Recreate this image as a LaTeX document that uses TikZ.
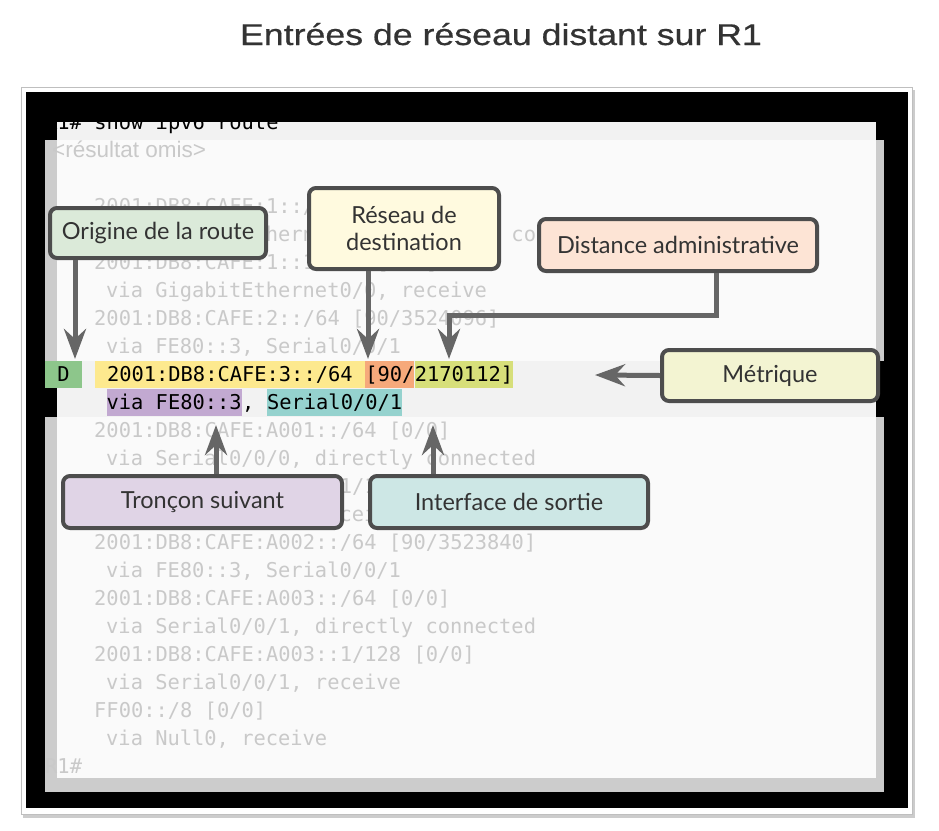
\documentclass[tikz,border=0pt]{standalone}
\usepackage{fontspec}
\setmainfont{Lato}
\setsansfont{Lato}
\setmonofont{DejaVu Sans Mono}
\newfontfamily\titlefont{Liberation Sans}[FakeStretch=1.19, FakeBold=0.5]
\newfontfamily\omisfont{Liberation Sans}
\usetikzlibrary{arrows.meta}
\usetikzlibrary{positioning}

\definecolor{boxline}{HTML}{4D4D4D}
\definecolor{arrgray}{HTML}{666666}
\definecolor{labeltext}{HTML}{333333}
\definecolor{txtgray}{HTML}{C9C9C9}
\definecolor{bandgray}{HTML}{F2F2F2}
\definecolor{panel}{HTML}{FAFAFA}
\definecolor{shadowgray}{HTML}{CCCCCC}
\definecolor{origfill}{HTML}{DBEAD9}
\definecolor{destfill}{HTML}{FFFADF}
\definecolor{distfill}{HTML}{FDE4D5}
\definecolor{metrfill}{HTML}{F3F4D2}
\definecolor{tronfill}{HTML}{E0D4E6}
\definecolor{intffill}{HTML}{CDE7E5}
\definecolor{dgreen}{HTML}{8DC68B}
\definecolor{netyel}{HTML}{FDE98E}
\definecolor{adorg}{HTML}{F6A97B}
\definecolor{metgrn}{HTML}{D7DF7A}
\definecolor{hoppur}{HTML}{C2A9D1}
\definecolor{ifteal}{HTML}{95D2CE}

\begin{document}
\begin{tikzpicture}[x=1pt, y=-1pt,
  box/.style={draw=boxline, line width=4pt, rounded corners=7pt, text=labeltext,
    font=\fontsize{23.5}{27}\selectfont, align=center, inner sep=0pt},
  arr/.style={draw=arrgray, line width=5pt, -{Stealth[length=30pt, width=22pt, inset=10pt]}},
  row/.style={anchor=base west, inner sep=0pt, text=txtgray,
    font=\ttfamily\fontsize{20.4}{24}\selectfont},
  hl/.style={anchor=base west, inner sep=0pt, text height=20.5pt, text depth=7pt,
    font=\ttfamily\fontsize{20.4}{24}\selectfont, text=black}]
\useasboundingbox (0,0) rectangle (939,830);

% title
\node[anchor=base, text=labeltext, font=\titlefont\fontsize{30}{36}\selectfont] (title) at (501,45) {Entrées de réseau distant sur R1};

% screen frame
\fill[black!20] (23,90) rectangle (915,818);
\filldraw[fill=white, draw=black!25, line width=1pt] (21,87) rectangle (912,814);
\fill[black] (26,92) rectangle (908,808);
\fill[shadowgray] (45,140) rectangle (884,792);
\fill[panel] (57,140) rectangle (876,778);
\fill[bandgray] (57,122) rectangle (876,140);
\fill[black] (45,361) rectangle (884,417);
\fill[bandgray] (57,361) rectangle (876,417);

% terminal output
\node[row, text=black] (cmd) at (45,129) {R1\# show ipv6 route};
\node[anchor=base west, inner sep=0pt, text=txtgray, font=\omisfont\fontsize{22.5}{26}\selectfont] (omis) at (52,157) {<résultat omis>};
\node[row] (r1) at (94,213) {2001:DB8:CAFE:1::/64 [0/0]};
\node[row] (r2) at (106,241) {via GigabitEthernet0/0, directly connected};
\node[row] (r3) at (94,269) {2001:DB8:CAFE:1::1/128 [0/0]};
\node[row] (r4) at (106,297) {via GigabitEthernet0/0, receive};
\node[row] (r5) at (94,325) {2001:DB8:CAFE:2::/64 [90/3524096]};
\node[row] (r6) at (106,353) {via FE80::3, Serial0/0/1};
\node[row] (r7) at (94,437) {2001:DB8:CAFE:A001::/64 [0/0]};
\node[row] (r8) at (106,465) {via Serial0/0/0, directly connected};
\node[row] (r9) at (94,493) {2001:DB8:CAFE:A001::1/128 [0/0]};
\node[row] (r10) at (106,521) {via Serial0/0/0, receive};
\node[row] (r11) at (94,549) {2001:DB8:CAFE:A002::/64 [90/3523840]};
\node[row] (r12) at (106,577) {via FE80::3, Serial0/0/1};
\node[row] (r13) at (94,605) {2001:DB8:CAFE:A003::/64 [0/0]};
\node[row] (r14) at (106,633) {via Serial0/0/1, directly connected};
\node[row] (r15) at (94,661) {2001:DB8:CAFE:A003::1/128 [0/0]};
\node[row] (r16) at (106,689) {via Serial0/0/1, receive};
\node[row] (r17) at (94,717) {FF00::/8 [0/0]};
\node[row] (r18) at (106,745) {via Null0, receive};
\node[row] (prompt) at (45,773) {R1\#};

% highlighted route
\node[hl, fill=dgreen] (dcode) at (45,381) {\hphantom{0}D\hphantom{0}};
\node[hl, fill=netyel, right=12.28pt of dcode] (net) {\hphantom{0}2001:DB8:CAFE:3::/64\hphantom{0}};
\node[hl, fill=adorg, right=0pt of net] (ad) {[90/};
\node[hl, fill=metgrn, right=0pt of ad] (met) {2170112]};
\node[hl, fill=hoppur] (hop) at (106.4,409) {via FE80::3};
\node[hl, right=0pt of hop] (comma) {,\hphantom{0}};
\node[hl, fill=ifteal, right=0pt of comma] (exitif) {Serial0/0/1};

% arrow ends
\coordinate (origtip) at (75,359);
\coordinate (desttip) at (368,359);
\coordinate (distbend) at (716,315);
\coordinate (disttip) at (449,359);
\coordinate (metrtip) at (595,375);
\coordinate (trontip) at (216,425);
\coordinate (intftip) at (433,425);

% callouts
\node[box, fill=origfill, minimum width=216pt, minimum height=50pt] (orig) at (158,233) {Origine de la route};
\node[box, fill=destfill, minimum width=190pt, minimum height=81pt] (dest) at (404,228.5) {Réseau de\\destination};
\node[box, fill=distfill, minimum width=278pt, minimum height=52pt] (dist) at (678,245) {Distance administrative};
\node[box, fill=metrfill, minimum width=216pt, minimum height=51pt] (metr) at (770,375.5) {Métrique};
\node[box, fill=tronfill, minimum width=279pt, minimum height=52pt] (tron) at (202.5,502) {Tronçon suivant};
\node[box, fill=intffill, minimum width=278pt, minimum height=52pt] (intf) at (509,502) {Interface de sortie};

\draw[arr] (origtip |- orig.south) -- (origtip);
\draw[arr] (desttip |- dest.south) -- (desttip);
\draw[arr] (distbend |- dist.south) -- (distbend) -| (disttip);
\draw[arr] (metr.west) -- (metrtip);
\draw[arr] (trontip |- tron.north) -- (trontip);
\draw[arr] (intftip |- intf.north) -- (intftip);
\end{tikzpicture}
\end{document}
